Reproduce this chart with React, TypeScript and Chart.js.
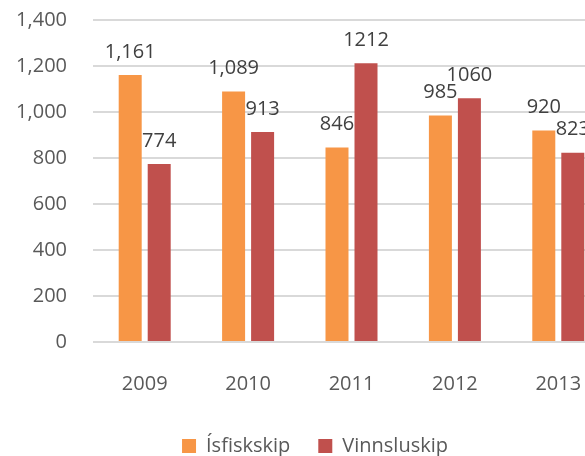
import { useEffect, useRef } from "react";
import { Chart, registerables } from "chart.js";

Chart.register(...registerables);

const categories = ["2009", "2010", "2011", "2012", "2013"];
const seriesNames = ["Ísfiskskip", "Vinnsluskip"];
const isfiskskip = [1161, 1089, 846, 985, 920];
const vinnsluskip = [774, 913, 1212, 1060, 823];
const isfiskLabels = ["1,161", "1,089", "846", "985", "920"];
const vinnsluLabels = ["774", "913", "1212", "1060", "823"];
const valueLabels = [isfiskLabels, vinnsluLabels];
const yMin = 0;
const yMax = 1400;
const yStep = 200;

const FONT = "'Open Sans', 'DejaVu Sans', sans-serif";

const dataLabelPlugin = {
  id: "dataLabels",
  afterDatasetsDraw(chart: any) {
    const ctx = chart.ctx;
    ctx.save();
    ctx.font = `20px ${FONT}`;
    ctx.fillStyle = "#404040";
    ctx.textAlign = "center";
    ctx.textBaseline = "middle";
    chart.data.datasets.forEach((_ds: any, i: number) => {
      const meta = chart.getDatasetMeta(i);
      meta.data.forEach((el: any, j: number) => {
        ctx.fillText(valueLabels[i][j], el.x, el.y - 23);
      });
    });
    ctx.restore();
  },
};

export default function App() {
  const ref = useRef<HTMLCanvasElement | null>(null);

  useEffect(() => {
    if (!ref.current) return;
    const chart = new Chart(ref.current, {
      type: "bar",
      data: {
        labels: categories,
        datasets: [
          {
            label: seriesNames[0],
            data: isfiskskip,
            backgroundColor: "#F79646",
            borderWidth: 0,
            categoryPercentage: 0.561,
            barPercentage: 0.793,
          },
          {
            label: seriesNames[1],
            data: vinnsluskip,
            backgroundColor: "#C0504D",
            borderWidth: 0,
            categoryPercentage: 0.561,
            barPercentage: 0.793,
          },
        ],
      },
      options: {
        animation: false,
        responsive: false,
        devicePixelRatio: 1,
        layout: { padding: { left: 0, right: 0, top: 20, bottom: 0 } },
        plugins: {
          legend: {
            position: "bottom",
            labels: {
              boxWidth: 14,
              boxHeight: 14,
              padding: 28,
              color: "#595959",
              font: { family: FONT, size: 20 },
            },
          },
          tooltip: { enabled: false },
        },
        scales: {
          x: {
            grid: { display: false },
            border: { display: false },
            ticks: { color: "#595959", font: { family: FONT, size: 20 }, padding: 22 },
            afterFit: (s: any) => {
              s.height = 66;
            },
          },
          y: {
            min: yMin,
            max: yMax,
            ticks: {
              stepSize: yStep,
              color: "#595959",
              font: { family: FONT, size: 20 },
              padding: 0,
            },
            grid: {
              color: "#d9d9d9",
              lineWidth: 2,
              drawTicks: true,
              tickLength: 26,
              tickColor: "rgba(0,0,0,0)",
            },
            border: { display: false },
            afterFit: (s: any) => {
              s.width = 93;
            },
          },
          yRightSpace: {
            position: "right",
            display: true,
            min: yMin,
            max: yMax,
            grid: { display: false, drawTicks: false },
            border: { display: false },
            ticks: { display: false },
            afterFit: (s: any) => {
              s.width = 20;
            },
          },
        },
      },
      plugins: [dataLabelPlugin],
    } as any);
    return () => chart.destroy();
  }, []);

  return (
    <div
      style={{
        position: "fixed",
        left: 0,
        top: 0,
        width: 585,
        height: 456,
        overflow: "hidden",
        background: "#fff",
      }}
    >
      <canvas ref={ref} width={630} height={466} style={{ display: "block" }} />
    </div>
  );
}
